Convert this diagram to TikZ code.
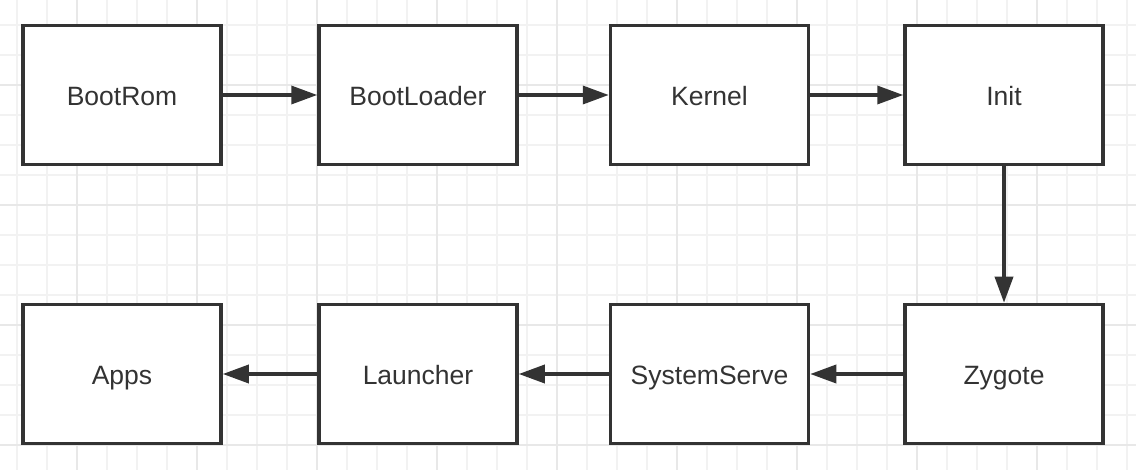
\documentclass[tikz,border=0pt]{standalone}
\usepackage{fontspec}
\setmainfont{Liberation Sans}
\usetikzlibrary{arrows.meta}
\definecolor{ink}{HTML}{333333}
\definecolor{gridminor}{HTML}{F2F2F2}
\definecolor{gridmajor}{HTML}{E8E8E8}
\tikzset{
  box/.style={draw=ink, line width=3.5pt, fill=white, minimum width=198pt, minimum height=139pt, inner sep=0pt, text=ink, text height=22pt, text depth=0pt, font=\fontsize{26.5}{30}\selectfont},
  conn/.style={draw=ink, line width=3.5pt, -{Triangle[length=26pt,width=18pt]}},
}
\begin{document}
\begin{tikzpicture}[x=1pt,y=-1pt]
\useasboundingbox (0,0) rectangle (1136,470);
\fill[white] (0,0) rectangle (1136,470);
% minor grid
\foreach \gx in {17,47,...,1136} \draw[gridminor, line width=1.5pt] (\gx,0) -- (\gx,470);
\foreach \gy in {25,55,...,470} \draw[gridminor, line width=1.5pt] (0,\gy) -- (1136,\gy);
% major grid
\foreach \gx in {77,197,...,1136} \draw[gridmajor, line width=2pt] (\gx,0) -- (\gx,470);
\foreach \gy in {85,205,325,445} \draw[gridmajor, line width=2pt] (0,\gy) -- (1136,\gy);
% nodes
\node[box] (bootrom) at (122,95) {BootRom};
\node[box] (bootloader) at (418,95) {BootLoader};
\node[box] (kernel) at (709.5,95) {Kernel};
\node[box] (init) at (1004,95) {Init};
\node[box] (apps) at (122,374) {Apps};
\node[box] (launcher) at (418,374) {Launcher};
\node[box] (systemserve) at (709.5,374) {SystemServe};
\node[box] (zygote) at (1004,374) {Zygote};
% connectors
\draw[conn] (bootrom) -- (bootloader);
\draw[conn] (bootloader) -- (kernel);
\draw[conn] (kernel) -- (init);
\draw[conn] (init) -- (zygote);
\draw[conn] (zygote) -- (systemserve);
\draw[conn] (systemserve) -- (launcher);
\draw[conn] (launcher) -- (apps);
\end{tikzpicture}
\end{document}
